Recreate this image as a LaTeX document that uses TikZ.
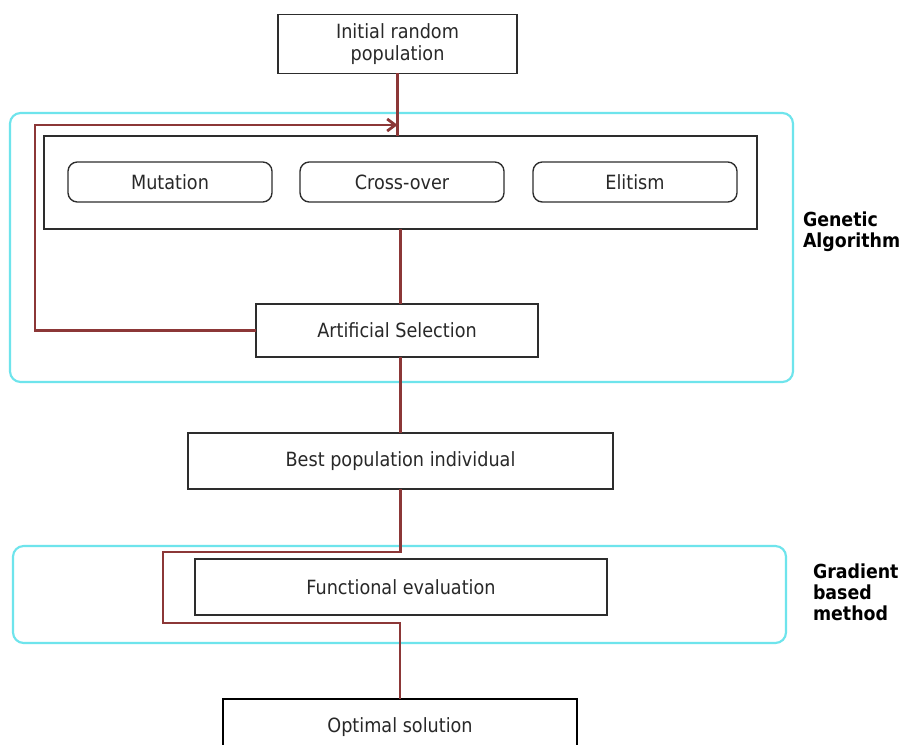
\documentclass[tikz,border=0pt]{standalone}
\usepackage{fontspec}
\setmainfont{DejaVu Sans}[FakeStretch=0.9]
\usetikzlibrary{arrows.meta}
\definecolor{cyanline}{RGB}{110,228,236}
\definecolor{redline}{RGB}{140,55,55}
\definecolor{boxline}{RGB}{45,45,45}
\definecolor{txt}{RGB}{40,40,40}
\begin{document}
\begin{tikzpicture}[x=0.75pt,y=-0.75pt,
  every node/.style={font=\fontsize{14.7}{16.5}\selectfont, text=txt, inner sep=0pt, outer sep=0pt},
  box/.style={draw=boxline, line width=1.1pt, align=center},
  pill/.style={box, rounded corners=7pt, line width=1pt, minimum width=153pt, minimum height=30pt},
  group/.style={draw=cyanline, line width=1.6pt, rounded corners=8pt},
  link/.style={draw=redline, line width=2.1pt},
  lbl/.style={font=\bfseries\fontsize{14.5}{15.75}\selectfont, text=black, align=left, anchor=north west}]
\useasboundingbox (0,0) rectangle (906,745);
\fill[white] (0,0) rectangle (906,745);

% group frames
\node[group, minimum width=587.25pt, minimum height=201.75pt] (ga) at (401.5,247.5) {};
\node[group, minimum width=579.75pt, minimum height=72.75pt] (gm) at (399.5,594.5) {};

% boxes
\node[box, minimum width=179.25pt, minimum height=44.25pt] (init) at (397.5,44) {Initial random\\population};
\node[box, minimum width=534.75pt, minimum height=69.75pt] (inner) at (400.5,182.5) {};
\node[pill] (mut) at (170,182) {Mutation};
\node[pill] (cross) at (402,182) {Cross-over};
\node[pill] (elit) at (635,182) {Elitism};
\node[box, minimum width=211.5pt, minimum height=39.75pt] (as) at (397,330.5) {Artificial Selection};
\node[box, minimum width=318.75pt, minimum height=42pt] (best) at (400.5,461) {Best population individual};
\node[box, minimum width=309pt, minimum height=42pt] (func) at (401,587) {Functional evaluation};
\node[box, draw=black, line width=2.2pt, minimum width=265.5pt, minimum height=42pt] (opt) at (400,727) {Optimal solution};

% labels
\node[lbl] (lga) at (803,212) {Genetic\\Algorithm};
\node[lbl] (lgm) at (813,564) {Gradient\\based\\method};

% connectors
\coordinate (j1) at (397.5,125);
\coordinate (lp) at (35,125);
\coordinate (gA) at (163,552);
\coordinate (gB) at (163,623);
\draw[link] (init.south) -- (init.south |- inner.north);
\draw[link, -{Straight Barb[length=6pt,width=9pt]}] (as.west) -| (lp) -- (j1);
\draw[link] (inner.south) -- (inner.south |- as.north);
\draw[link] (as.south -| best.north) -- (best.north);
\draw[link] (best.south) |- (gA) -- (gB) -| (opt.north);
\end{tikzpicture}
\end{document}
